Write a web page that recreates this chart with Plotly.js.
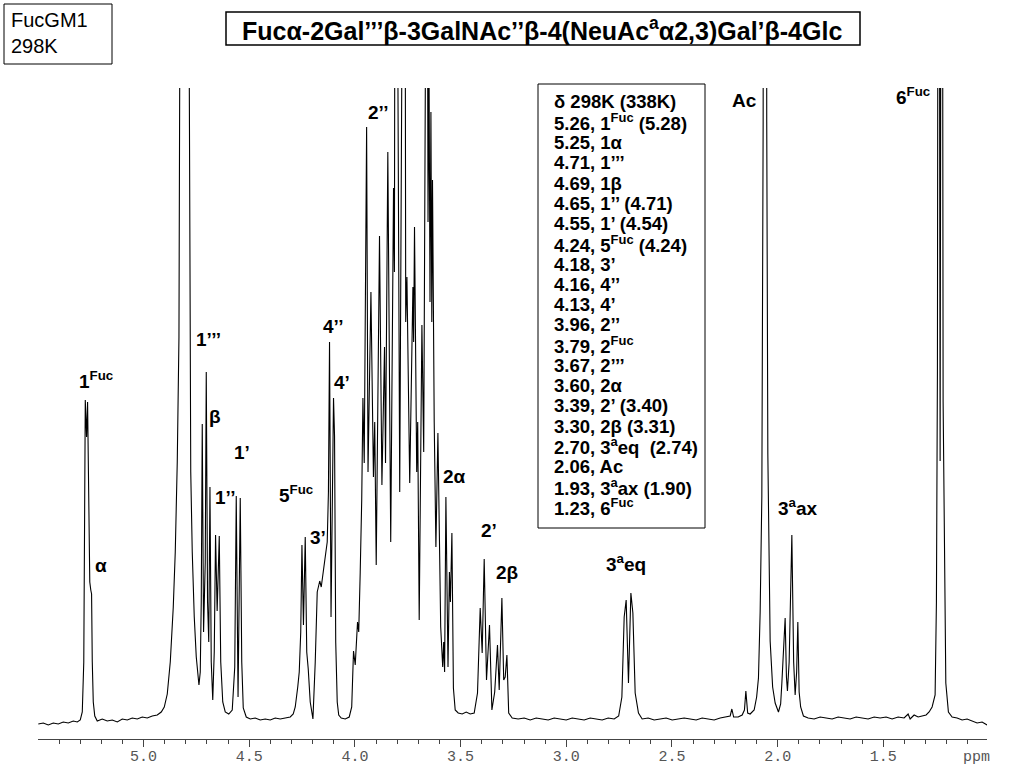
<!DOCTYPE html>
<html>
<head>
<meta charset="utf-8">
<script src="https://cdn.plot.ly/plotly-3.0.1.min.js"></script>
<style>html,body{margin:0;padding:0;background:#fff;}#chart{width:1024px;height:768px;}</style>
</head>
<body>
<div id="chart"></div>
<script>
// Chemical shift (ppm) of the traced spectrum vertices
const shiftPpm = [
5.4981,5.4745,5.4508,5.4272,5.4035,5.3799,5.3562,5.3326,5.3137,5.2995,5.2900,5.2829,5.2758,5.2697,5.2649,5.2593,5.2545,5.2498,5.2460,5.2427,5.2380,5.2309,5.2191,5.1954,5.1718,5.1481,5.1244,5.1008,5.0771,5.0535,5.0298,5.0062,4.9825,4.9589,4.9352,4.9163,4.9021,4.8879,4.8737,4.8595,4.8501,4.8406,4.8326,4.8241,4.8075,4.7900,4.7815,4.7768,4.7697,4.7602,4.7507,4.7380,
4.7318,4.7271,4.7224,4.7162,4.7082,4.7034,4.6973,4.6916,4.6859,4.6798,4.6727,4.6656,4.6594,4.6519,4.6419,4.6349,4.6254,4.6136,4.5970,4.5805,4.5686,4.5615,4.5530,4.5426,4.5355,4.5284,4.5142,4.4953,4.4717,4.4480,4.4243,4.4007,4.3770,4.3534,4.3297,4.3061,4.2919,4.2824,4.2706,4.2635,4.2564,4.2507,4.2436,4.2351,4.2280,4.2209,4.2115,4.1987,
4.1878,4.1784,4.1665,4.1594,4.1500,4.1405,4.1311,4.1254,4.1202,4.1131,4.1074,4.1013,4.0965,4.0909,4.0838,4.0767,4.0648,4.0459,4.0270,4.0152,4.0067,3.9986,3.9877,3.9821,3.9750,3.9679,3.9622,3.9560,3.9447,3.9381,3.9243,3.9125,3.9064,3.8993,3.8837,3.8723,3.8600,3.8553,3.8444,3.8307,3.8174,3.8132,3.8080,3.7881,3.7654,3.7597,3.7540,3.7408,3.7257,3.7223,3.7181,3.7077,3.7030,3.6959,3.6831,3.6746,
3.6594,3.6542,3.6495,3.6448,3.6405,3.6363,3.6330,3.6249,3.6169,3.6074,3.5942,3.5847,3.5800,3.5757,3.5696,3.5596,3.5530,3.5483,3.5412,3.5341,3.5256,3.5114,3.4925,3.4735,3.4546,3.4357,3.4201,3.4073,3.3979,3.3884,3.3775,3.3633,3.3520,3.3387,3.3255,3.3174,3.3047,3.2961,3.2891,3.2810,3.2725,3.2559,3.2276,3.1992,3.1708,3.1424,3.1140,3.0856,3.0573,3.0289,3.0005,2.9721,2.9437,2.9154,2.8870,2.8586,2.8302,2.8018,2.7734,
2.7522,2.7370,2.7261,2.7167,2.7058,2.6944,2.6850,2.6741,2.6585,2.6410,2.6126,2.5842,2.5558,2.5275,2.4991,2.4707,2.4423,2.4139,2.3855,2.3572,2.3288,2.3004,2.2720,2.2436,2.2247,2.2167,2.2082,2.1869,2.1679,2.1571,2.1504,2.1419,2.1301,2.1112,2.0994,2.0908,2.0828,2.0748,2.0686,2.0601,2.0516,2.0464,2.0355,2.0237,2.0118,1.9962,1.9858,1.9801,1.9716,1.9645,1.9584,1.9537,1.9456,1.9328,1.9243,1.9172,1.9101,1.9045,1.8983,1.8912,1.8780,
1.8557,1.8274,1.7990,1.7706,1.7422,1.7138,1.6854,1.6571,1.6287,1.6003,1.5719,1.5435,1.5152,1.4868,1.4584,1.4300,1.4016,1.3827,1.3732,1.3543,1.3354,1.3165,1.2976,1.2834,1.2692,1.2550,1.2488,1.2441,1.2384,1.2313,1.2233,1.2171,1.2100,1.2044,1.1921,1.1746,1.1509,1.1273,1.1036,1.0800,1.0563,1.0327,1.0090
];
// Signal intensity (arbitrary units) at each vertex
const intensity = [
-2,-1,-3,-1,-2,0,-1,1,0,2,10,60,322,285,320,180,140,132,128,60,20,6,1,3,1,2,0,3,2,4,3,5,4,6,7,10,15,28,60,115,170,260,385,1000,1300,1000,350,250,170,105,65,37,
50,120,298,90,160,350,120,80,235,60,22,70,187,111,186,60,20,10,8,12,55,226,25,224,60,14,5,3,4,2,3,2,4,3,4,5,8,15,35,50,90,177,97,185,70,53,20,3,
60,130,141,135,150,164,180,230,380,105,250,324,286,80,20,7,4,3,5,15,71,57,100,90,150,222,324,259,595,250,430,245,300,157,486,237,375,259,570,180,534,450,1200,230,1200,400,445,239,435,380,495,250,300,102,397,270,
1000,500,660,420,610,400,542,300,175,289,95,55,80,50,225,55,150,120,189,34,12,9,8,10,8,9,29,114,69,163,42,97,12,30,77,32,124,42,45,67,9,4,3,4,2,4,3,2,4,3,2,4,3,2,4,3,2,4,3,
6,25,105,122,39,129,109,29,9,3,4,2,3,4,2,3,4,3,2,4,3,2,4,5,6,13,5,5,7,12,31,9,8,12,25,44,110,226,600,3000,600,268,81,35,19,10,18,39,70,104,45,31,60,187,60,27,50,100,30,15,6,
4,3,5,4,3,5,4,3,5,4,3,5,4,5,3,5,4,8,3,7,5,6,7,10,15,27,120,350,1400,261,1400,320,120,39,10,5,4,2,3,1,-1,0,-3
];

// Axis ticks
const tickVals = [5.0, 4.5, 4.0, 3.5, 3.0, 2.5, 2.0, 1.5];
const tickText = ['5.0', '4.5', '4.0', '3.5', '3.0', '2.5', '2.0', '1.5'];

// Peak assignment labels
const peakLabels = ['1<sup>Fuc</sup>', 'α', '1’’’', 'β', '1’’', '1’', '5<sup>Fuc</sup>', '3’', '4’’', '4’', '2’’', '2α', '2’', '2β', '3<sup>a</sup>eq', 'Ac', '3<sup>a</sup>ax', '6<sup>Fuc</sup>'];
const labelPpm = [5.2238, 5.2009, 4.6940, 4.6608, 4.6136, 4.5355, 4.2777, 4.1736, 4.1027, 4.0601, 3.8898, 3.5303, 3.3647, 3.2819, 2.7190, 2.1585, 1.9030, 1.3590];
const labelHeight = [342, 157, 383, 306, 225, 270, 228, 185, 396, 340, 610, 246, 192, 150, 159, 622, 215, 626];

// Chemical shift table
const shiftTable = [
  'δ 298K (338K)',
  '5.26, 1<sup>Fuc</sup> (5.28)',
  '5.25, 1α',
  '4.71, 1’’’',
  '4.69, 1β',
  '4.65, 1’’ (4.71)',
  '4.55, 1’ (4.54)',
  '4.24, 5<sup>Fuc</sup> (4.24)',
  '4.18, 3’',
  '4.16, 4’’',
  '4.13, 4’',
  '3.96, 2’’',
  '3.79, 2<sup>Fuc</sup>',
  '3.67, 2’’’',
  '3.60, 2α',
  '3.39, 2’ (3.40)',
  '3.30, 2β (3.31)',
  '2.70, 3<sup>a</sup>eq  (2.74)',
  '2.06, Ac',
  '1.93, 3<sup>a</sup>ax (1.90)',
  '1.23, 6<sup>Fuc</sup>'
];
const titleText = 'Fucα-2Gal’’’β-3GalNAc’’β-4(NeuAc<sup>a</sup>α2,3)Gal’β-4Glc';
const sampleText = 'FucGM1<br>298K';

// ---- layout helpers (pixel -> paper) ----
const ML = 38, MR = 37, MT = 88, MB = 29, W = 1024, H = 768;
const PW = W - ML - MR, PH = H - MT - MB;
const px = x => (x - ML) / PW;
const py = y => (H - MB - y) / PH;
const SANS = 'Liberation Sans, Arial, sans-serif';

const annotations = [];
peakLabels.forEach((t, i) => {
  annotations.push({
    x: labelPpm[i], y: labelHeight[i], xref: 'x', yref: 'y',
    text: '<b>' + t + '</b>', showarrow: false,
    xanchor: 'center', yanchor: 'middle',
    font: {family: SANS, size: 19, color: '#000'}
  });
});
shiftTable.forEach((t, i) => {
  annotations.push({
    x: px(552), y: py(102 + i * 20.25), xref: 'paper', yref: 'paper',
    text: '<b>' + t + '</b>', showarrow: false,
    xanchor: 'left', yanchor: 'middle',
    font: {family: SANS, size: 18.5, color: '#000'}
  });
});
annotations.push({
  x: px(542), y: py(29), xref: 'paper', yref: 'paper',
  text: '<b>' + titleText + '</b>', showarrow: false,
  xanchor: 'center', yanchor: 'middle',
  font: {family: SANS, size: 25, color: '#000'}
});
annotations.push({
  x: px(9), y: py(33), xref: 'paper', yref: 'paper',
  text: sampleText, showarrow: false, align: 'left',
  xanchor: 'left', yanchor: 'middle',
  font: {family: SANS, size: 20, color: '#000'}
});
annotations.push({
  x: px(961), y: py(757), xref: 'paper', yref: 'paper',
  text: 'ppm', showarrow: false,
  xanchor: 'left', yanchor: 'middle',
  font: {family: 'Liberation Mono, Courier New, monospace', size: 15, color: '#555'}
});

const box = (x0, y0, x1, y1, w) => ({
  type: 'rect', xref: 'paper', yref: 'paper',
  x0: px(x0), x1: px(x1), y0: py(y0), y1: py(y1),
  line: {color: '#000', width: w}, fillcolor: 'rgba(0,0,0,0)'
});

const trace = {
  type: 'scatter', mode: 'lines',
  x: shiftPpm, y: intensity,
  line: {color: '#000', width: 1.1},
  hoverinfo: 'x+y'
};

const layout = {
  width: W, height: H,
  margin: {l: ML, r: MR, t: MT, b: MB, pad: 0},
  paper_bgcolor: '#fff', plot_bgcolor: '#fff',
  showlegend: false,
  xaxis: {
    range: [5.4995, 1.0095], tickvals: tickVals, ticktext: tickText,
    ticks: 'outside', ticklen: 7, tickwidth: 1, tickcolor: '#444',
    ticklabelstandoff: -4,
    showline: true, linecolor: '#444', linewidth: 1,
    showgrid: false, zeroline: false,
    tickfont: {family: 'Liberation Mono, Courier New, monospace', size: 15, color: '#555'},
    minor: {dtick: 0.1, tick0: 0, ticks: 'outside', ticklen: 4, tickcolor: '#444', showgrid: false}
  },
  yaxis: {range: [-17, 634], visible: false, fixedrange: true},
  annotations: annotations,
  shapes: [box(4, 4, 112, 64, 1), box(226, 12, 860, 45, 1.5), box(538, 84, 705, 528, 1)]
};

Plotly.newPlot('chart', [trace], layout, {staticPlot: true, displayModeBar: false});
</script>
</body>
</html>
